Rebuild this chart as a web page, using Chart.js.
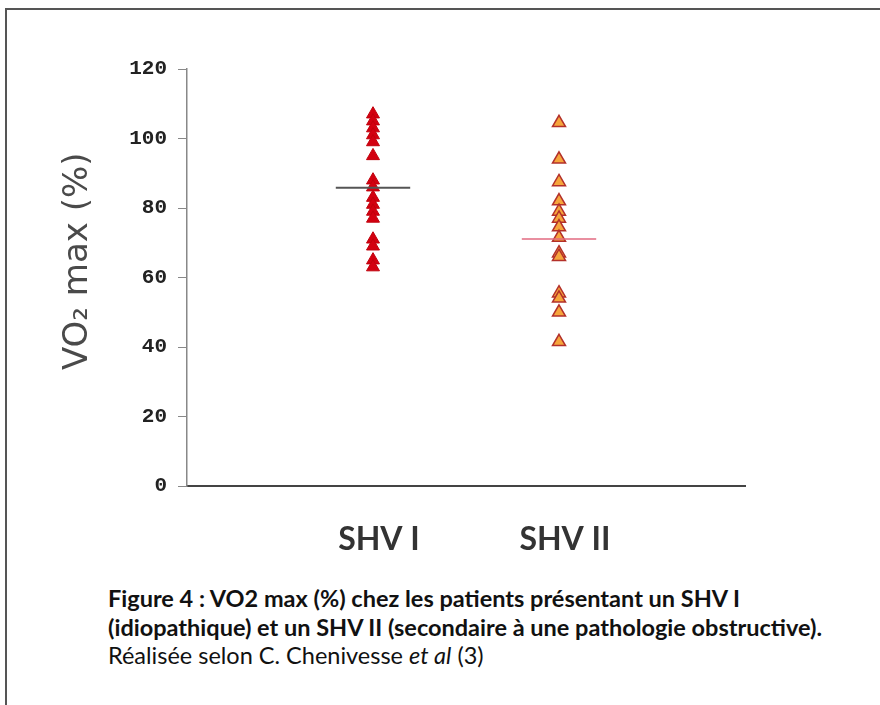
<!DOCTYPE html>
<html>
<head>
<meta charset="utf-8">
<script src="https://cdn.jsdelivr.net/npm/chart.js@4"></script>
<style>
    html, body { margin: 0; padding: 0; background: #fff; }
    body { width: 880px; height: 705px; position: relative; overflow: hidden; }
    #frame {
        position: absolute; left: 5px; top: 8px; width: 900px; height: 720px;
        border-top: 2px solid #555; border-left: 2px solid #555;
    }
    #chartBox { position: absolute; left: 0; top: 0; width: 880px; height: 570px; }
    #caption {
        position: absolute; left: 108px; top: 584px;
        font-family: Lato, "Open Sans", sans-serif; font-size: 23.5px; line-height: 28.5px; color: #111;
        white-space: nowrap;
    }
    #caption b { font-weight: bold; }
</style>
</head>
<body>
<div id="frame"></div>
<div id="chartBox"><canvas id="vo2Chart" width="880" height="570"></canvas></div>
<div id="caption">
    <b>Figure 4 : VO2 max (%) chez les patients présentant un SHV I<br>
    (idiopathique) et un SHV II (secondaire à une pathologie obstructive).</b><br>
    Réalisée selon C. Chenivesse <i>et al</i> (3)
</div>
<script>
// groups on the x axis
const categories = ['SHV I', 'SHV II'];
// VO2 max (%) per patient
const shv1Values = [107, 105, 103, 101, 99, 95, 88, 86, 83, 81, 79, 77, 71, 69, 65, 63];
const shv2Values = [104.5, 94, 87.5, 82, 79, 77, 74.5, 71.5, 67, 66, 55.5, 54, 50, 41.5];
// group means (horizontal bars)
const meanValues = [85.8, 71.1];
const yTicks = [0, 20, 40, 60, 80, 100, 120];

function toPoints(values, xPos) {
    return values.map(v => ({ x: xPos, y: v }));
}

function meanLine(i) {
    const xPos = i + 1;
    return [{ x: xPos - 0.2, y: meanValues[i] }, { x: xPos + 0.2, y: meanValues[i] }];
}

const ctx = document.getElementById('vo2Chart').getContext('2d');
new Chart(ctx, {
    type: 'scatter',
    data: {
        datasets: [
            {
                type: 'line',
                label: 'Moyenne SHV I',
                data: meanLine(0),
                borderColor: '#555555',
                borderWidth: 2,
                pointRadius: 0,
                order: 0
            },
            {
                type: 'line',
                label: 'Moyenne SHV II',
                data: meanLine(1),
                borderColor: '#e26a80',
                borderWidth: 1.5,
                pointRadius: 0,
                order: 0
            },
            {
                label: categories[0],
                data: toPoints(shv1Values, 1),
                pointStyle: 'triangle',
                pointRadius: 7.5,
                backgroundColor: '#d30010',
                borderColor: '#c0000c',
                borderWidth: 1,
                order: 1
            },
            {
                label: categories[1],
                data: toPoints(shv2Values, 2),
                pointStyle: 'triangle',
                pointRadius: 7.5,
                backgroundColor: '#f6a53c',
                borderColor: '#b3302a',
                borderWidth: 1.5,
                order: 1
            }
        ]
    },
    options: {
        responsive: false,
        animation: false,
        layout: { padding: { left: 0, top: 69, right: 135, bottom: 0 } },
        plugins: {
            legend: { display: false },
            tooltip: { enabled: false }
        },
        scales: {
            x: {
                type: 'linear',
                min: 0,
                max: 3,
                afterFit: scale => { scale.height = 84; },
                afterBuildTicks: scale => {
                    scale.ticks = categories.map((c, i) => ({ value: i + 1 }));
                },
                ticks: {
                    callback: value => categories[value - 1],
                    font: { family: 'Lato', size: 32, weight: 'bold' },
                    color: '#333',
                    padding: 26,
                    labelOffset: 6,
                    maxRotation: 0
                },
                grid: { display: false },
                border: { display: true, color: '#444', width: 2 }
            },
            y: {
                min: 0,
                max: 120,
                afterFit: scale => { scale.width = 187; },
                afterBuildTicks: scale => {
                    scale.ticks = yTicks.map(v => ({ value: v }));
                },
                ticks: {
                    font: { family: 'Liberation Mono', size: 21, weight: 'bold' },
                    color: '#222',
                    padding: 11
                },
                grid: {
                    drawOnChartArea: false,
                    drawTicks: true,
                    tickLength: 9,
                    color: '#888'
                },
                border: { display: true, color: '#888', width: 1.5 },
                title: {
                    display: true,
                    // leading spaces nudge the rotated title up a little
                    text: '\u00a0\u00a0\u00a0VO₂ max (%)',
                    font: { family: 'DejaVu Sans', size: 34, weight: 'normal' },
                    color: '#4a4a4a',
                    padding: { top: 58, bottom: 0 }
                }
            }
        }
    }
});
</script>
</body>
</html>
